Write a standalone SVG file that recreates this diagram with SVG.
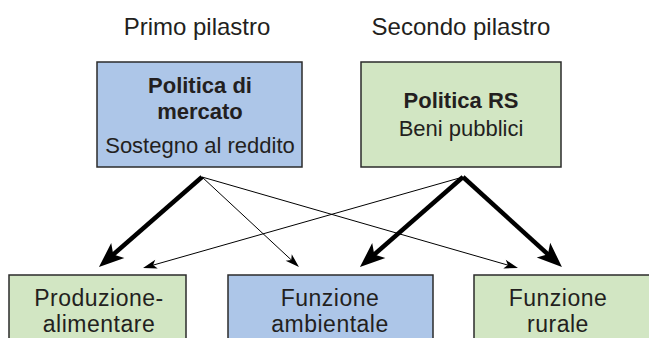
<svg xmlns="http://www.w3.org/2000/svg" width="649" height="338" viewBox="0 0 649 338">
<style>
text{font-family:"Liberation Sans",Arial,sans-serif;font-size:22px;fill:#231f20;text-anchor:middle}
.b{font-weight:bold}
.hd{font-size:24px}
.lg{font-size:23px;letter-spacing:0.5px}
.blue{fill:#adc6e8;stroke:#2b2b2b;stroke-width:1.5}
.green{fill:#d2e6c3;stroke:#2b2b2b;stroke-width:1.5}
.thick{stroke:#000;stroke-width:4.5;fill:none;marker-end:url(#ah)}
.thin{stroke:#000;stroke-width:1;fill:none;marker-end:url(#as)}
</style>
<defs>
<marker id="ah" markerUnits="userSpaceOnUse" viewBox="0 -11 27 22" markerWidth="27" markerHeight="22" refX="11" refY="0" orient="auto" overflow="visible"><path d="M0,-10 L25,0 L0,10 L6,0 Z" fill="#000"/></marker>
<marker id="as" markerUnits="userSpaceOnUse" viewBox="0 -6 15 12" markerWidth="15" markerHeight="12" refX="6" refY="0" orient="auto" overflow="visible"><path d="M0,-4.5 L14,0 L0,4.5 L3.5,0 Z" fill="#000"/></marker>
</defs>
<text class="hd" x="197" y="35">Primo pilastro</text>
<text class="hd" x="461" y="35">Secondo pilastro</text>
<g id="politica-mercato"><rect class="blue" x="97" y="62" width="205" height="105"/><text class="b" x="200" y="93">Politica di</text><text class="b" x="200" y="119">mercato</text><text x="200" y="153">Sostegno al reddito</text></g>
<g id="politica-rs"><rect class="green" x="361" y="62" width="200" height="105"/><text class="b" x="461" y="108">Politica RS</text><text x="461" y="136">Beni pubblici</text></g>
<g id="produzione"><rect class="green" x="9" y="275" width="177" height="70"/><text class="lg" x="99" y="306">Produzione-</text><text class="lg" x="99" y="332">alimentare</text></g>
<g id="ambientale"><rect class="blue" x="228" y="275" width="205" height="70"/><text class="lg" x="330" y="306">Funzione</text><text class="lg" x="330" y="332">ambientale</text></g>
<g id="rurale"><rect class="green" x="474" y="275" width="185" height="70"/><text class="lg" x="558" y="306">Funzione</text><text class="lg" x="558" y="332">rurale</text></g>
<g id="connectors">
<line class="thick" x1="202" y1="177" x2="109.5" y2="257.8"/>
<line class="thin" x1="202" y1="177" x2="293.1" y2="261.6"/>
<line class="thin" x1="202" y1="177" x2="510.3" y2="265.8"/>
<line class="thin" x1="463" y1="177" x2="150.7" y2="265.8"/>
<line class="thick" x1="463" y1="177" x2="370.5" y2="257.8"/>
<line class="thick" x1="463" y1="177" x2="551.6" y2="257.6"/>
</g>
</svg>
